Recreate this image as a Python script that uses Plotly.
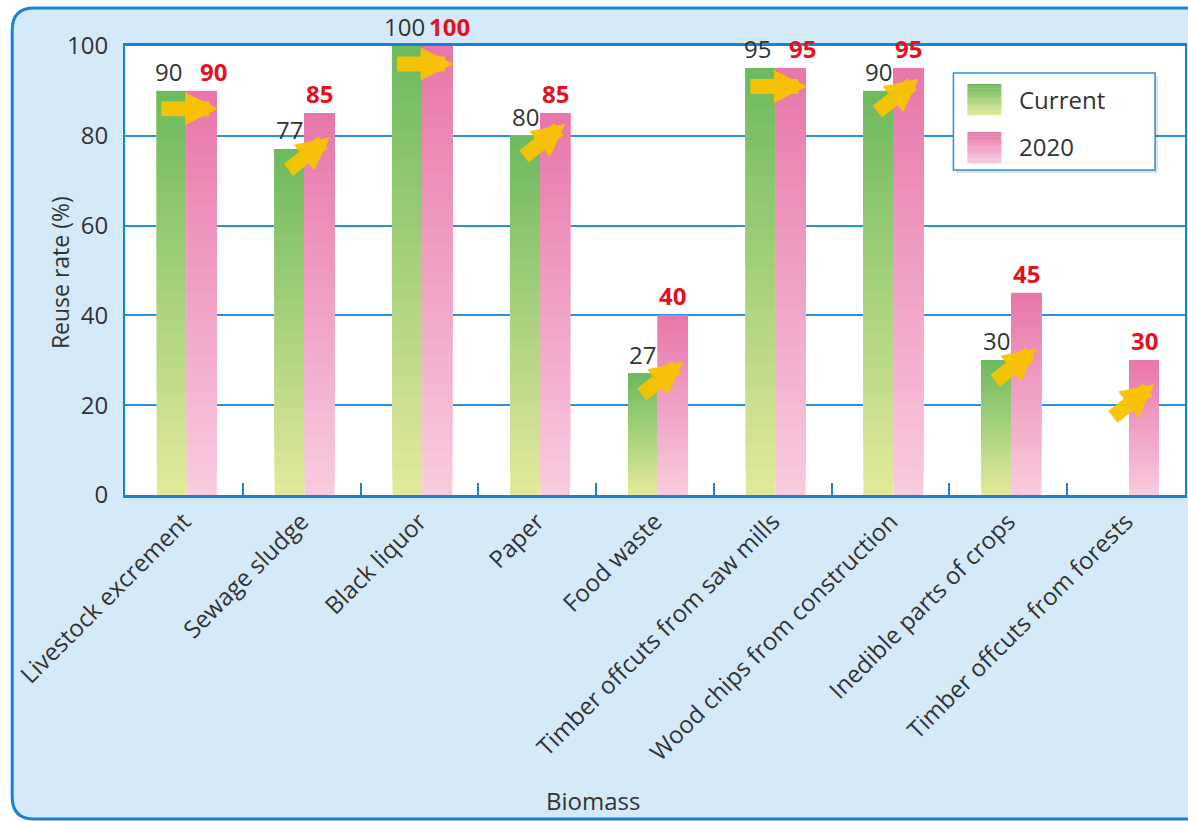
import plotly.graph_objects as go

# ---------------- data ----------------
categories = [
    "Livestock excrement", "Sewage sludge", "Black liquor", "Paper", "Food waste",
    "Timber offcuts from saw mills", "Wood chips from construction",
    "Inedible parts of crops", "Timber offcuts from forests",
]
current = [90, 77, 100, 80, 27, 95, 90, 30, 0]
target_2020 = [90, 85, 100, 85, 40, 95, 95, 45, 30]
series_names = ["Current", "2020"]
y_ticks = [0, 20, 40, 60, 80, 100]

# ---------------- styling ----------------
W, H = 1188, 821
L, R, T, B = 125, 1, 46, 326
PW, PH = W - L - R, H - T - B
FONT = "Open Sans"
BLUE = "#1a82d4"
GRID = "#2a8fdc"

GREEN_TOP, GREEN_BOT = (108, 185, 94), (227, 233, 155)
PINK_TOP, PINK_BOT = (232, 118, 170), (248, 203, 223)
BAR_W = 0.254
SHIFT = 0.025
N_SEG = 32


def px(x):
    return (x - L) / PW


def py(y):
    return (T + PH - y) / PH


def lerp(c_bot, c_top, t):
    return "rgb(%d,%d,%d)" % tuple(round(a + (b - a) * t) for a, b in zip(c_bot, c_top))


fig = go.Figure()

# gradient bars: each series drawn as stacked overlays, colour changing along the bar
for vals, offset, c_top, c_bot in [
    (current, -BAR_W + SHIFT, GREEN_TOP, GREEN_BOT),
    (target_2020, SHIFT, PINK_TOP, PINK_BOT),
]:
    for k in range(N_SEG):
        frac = k / N_SEG
        fig.add_trace(go.Bar(
            x=categories,
            y=[v * (1 - frac) for v in vals],
            base=[v * frac for v in vals],
            width=BAR_W,
            offset=offset,
            marker=dict(color=lerp(c_bot, c_top, (k + 0.5) / N_SEG), line=dict(width=0)),
            showlegend=False,
            hoverinfo="skip",
        ))

annotations = []
# value labels
for i, (c, t) in enumerate(zip(current, target_2020)):
    if c > 0:
        annotations.append(dict(
            x=i - BAR_W / 2 + SHIFT, y=c, xref="x", yref="y", text=str(c), showarrow=False,
            xanchor="center", yanchor="bottom", yshift=1, xshift=-3 if c == t else 0,
            font=dict(family=FONT, size=24, color="#333333"),
        ))
    annotations.append(dict(
        x=i + BAR_W / 2 + SHIFT, y=t, xref="x", yref="y", text="<b>%d</b>" % t, showarrow=False,
        xanchor="center", yanchor="bottom", yshift=1, xshift=12 if c == t else 0,
        font=dict(family=FONT, size=24, color="#e8101e"),
    ))

# yellow arrows from current to 2020
for i, (c, t) in enumerate(zip(current, target_2020)):
    if c == t:
        head_x, head_y, ax, ay = i + 0.29, c - 4, -58, 0
    else:
        anchor = c if c > 0 else t - 8
        head_x, head_y, ax, ay = i + 0.24, anchor + 2.7, -43, 34
    annotations.append(dict(
        x=head_x, y=head_y, xref="x", yref="y", text="", showarrow=True,
        ax=ax, ay=ay, arrowhead=2, arrowsize=0.44, arrowwidth=15,
        arrowcolor="rgba(248,196,0,0.95)", standoff=0,
    ))

# axis titles
annotations.append(dict(
    x=px(594), y=py(800), xref="paper", yref="paper", text="Biomass", showarrow=False,
    xanchor="center", yanchor="middle",
    font=dict(family=FONT, size=24, color="#333333"),
))
annotations.append(dict(
    x=px(60), y=py(273), xref="paper", yref="paper", text="Reuse rate (%)", showarrow=False,
    xanchor="center", yanchor="middle",
    textangle=-90, font=dict(family=FONT, size=23, color="#333333"),
))

# legend text
for name, yc in zip(series_names, [99, 146]):
    annotations.append(dict(
        x=px(1019), y=py(yc), xref="paper", yref="paper", text=name, showarrow=False,
        xanchor="left", yanchor="middle", font=dict(family=FONT, size=24, color="#333333"),
    ))

shapes = []
# outer rounded panel
x0, y0, x1, y1, r = 12, 8, 1210, 819, 22
path = "M %f,%f Q %f,%f %f,%f L %f,%f L %f,%f L %f,%f Q %f,%f %f,%f Z" % (
    px(x0), py(y0 + r), px(x0), py(y0), px(x0 + r), py(y0),
    px(x1), py(y0), px(x1), py(y1), px(x0 + r), py(y1),
    px(x0), py(y1), px(x0), py(y1 - r),
)
shapes.append(dict(type="path", path=path, xref="paper", yref="paper", layer="below",
                   fillcolor="#d5eaf8", line=dict(color=BLUE, width=3)))
# white plot area
shapes.append(dict(type="rect", xref="paper", yref="paper", x0=0, x1=1, y0=0, y1=1,
                   layer="below", fillcolor="white", line=dict(width=0)))

# legend box
shapes.append(dict(type="rect", xref="paper", yref="paper", layer="above",
                   x0=px(958), x1=px(1160), y0=py(173), y1=py(76),
                   fillcolor="rgba(0,0,0,0.12)", line=dict(width=0)))
shapes.append(dict(type="rect", xref="paper", yref="paper", layer="above",
                   x0=px(955), x1=px(1157), y0=py(170), y1=py(73),
                   fillcolor="white", line=dict(color=GRID, width=1.5)))
NS = 14
for (c_top, c_bot), (ty, by) in zip([(GREEN_TOP, GREEN_BOT), (PINK_TOP, PINK_BOT)],
                                     [(84, 115), (132, 163)]):
    h = (by - ty) / NS
    for k in range(NS):
        shapes.append(dict(type="rect", xref="paper", yref="paper", layer="above",
                           x0=px(969), x1=px(1003), y0=py(ty + (k + 1) * h + 0.3), y1=py(ty + k * h),
                           fillcolor=lerp(c_bot, c_top, 1 - (k + 0.5) / NS), line=dict(width=0)))

fig.update_layout(
    width=W, height=H,
    margin=dict(l=L, r=R, t=T, b=B),
    paper_bgcolor="white",
    plot_bgcolor="rgba(0,0,0,0)",
    barmode="overlay",
    showlegend=False,
    font=dict(family=FONT, size=24, color="#333333"),
    shapes=shapes,
    annotations=annotations,
    xaxis=dict(
        type="category", range=[-0.5, len(categories) - 0.5],
        tickangle=-45, tickson="boundaries", ticks="inside", ticklen=12, tickwidth=2,
        tickcolor=BLUE, showline=True, linecolor=BLUE, linewidth=3, mirror=True,
        showgrid=False, tickfont=dict(family=FONT, size=24, color="#333333"),
    ),
    yaxis=dict(
        range=[0, 100], tickvals=y_ticks, showline=True, linecolor=BLUE, linewidth=2,
        mirror=True, showgrid=True, gridcolor=GRID, gridwidth=1.5, zeroline=False,
        ticks="", ticklabelstandoff=10, tickfont=dict(family=FONT, size=24, color="#333333"),
    ),
)

fig.write_html("out.html")
